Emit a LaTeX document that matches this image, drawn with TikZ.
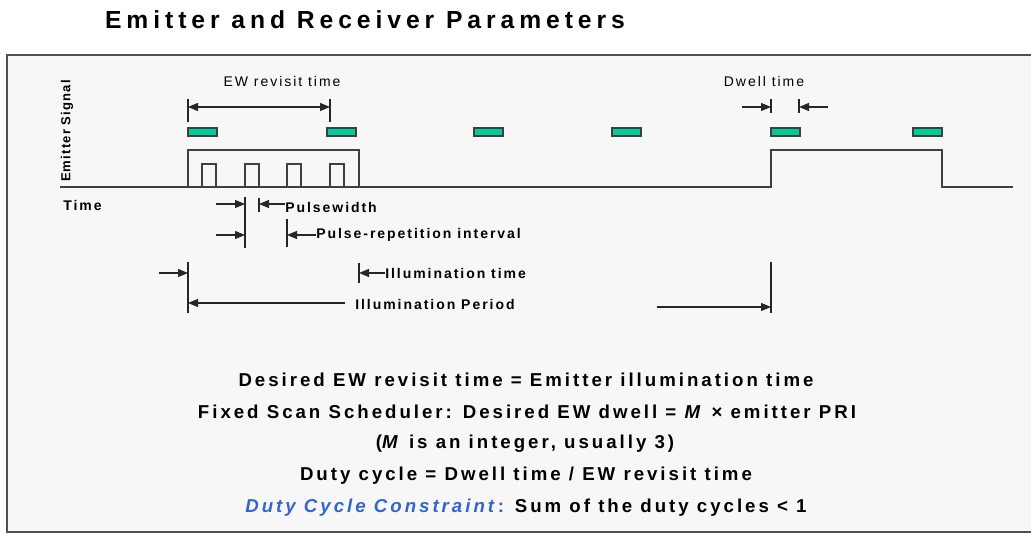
\documentclass[tikz,border=0pt]{standalone}
\usepackage{fontspec}
\setmainfont{Liberation Sans}
\newfontfamily\titlefam[LetterSpace=20]{Liberation Sans}
\newfontfamily\lblfam[LetterSpace=14]{Liberation Sans}
\newfontfamily\blblfam[LetterSpace=14]{Liberation Sans}
\newfontfamily\sigfam[LetterSpace=9]{Liberation Sans}
\newfontfamily\eqfam[LetterSpace=16]{Liberation Sans}
\usetikzlibrary{arrows.meta}
\definecolor{bg}{HTML}{F7F7F7}
\definecolor{barfill}{HTML}{00CC99}
\definecolor{blu}{HTML}{3366CC}
\definecolor{wave}{HTML}{404040}
\definecolor{frame}{HTML}{505050}
\begin{document}
\begin{tikzpicture}[x=0.75pt,y=-0.75pt,
  wavestyle/.style={draw=wave,line width=1.1pt},
  barstyle/.style={draw=wave,fill=barfill,line width=0.9pt},
  tick/.style={draw=black!85,line width=0.8pt},
  dim/.style={draw=black!85,line width=0.8pt,-{Triangle[length=7.5pt,width=6pt]}},
  dimboth/.style={draw=black!85,line width=0.8pt,{Triangle[length=7.5pt,width=6pt]}-{Triangle[length=7.5pt,width=6pt]}},
  titlestyle/.style={font=\titlefam\bfseries\fontsize{18.5}{22}\selectfont,inner sep=0pt},
  lbl/.style={font=\lblfam\fontsize{10.5}{12}\selectfont,inner sep=0pt},
  blbl/.style={font=\blblfam\bfseries\fontsize{10.5}{12}\selectfont,inner sep=0pt},
  siglbl/.style={font=\sigfam\bfseries\fontsize{9.8}{12}\selectfont,inner sep=0pt},
  eq/.style={font=\eqfam\bfseries\fontsize{14}{16}\selectfont,inner sep=0pt}]
\useasboundingbox (0,0) rectangle (1031,534);
\clip (0,0) rectangle (1031,534);
\fill[white] (0,0) rectangle (1031,534);
\draw[fill=bg,draw=frame,line width=1.2pt] (7,55) rectangle (1045,532);

\node[titlestyle] (title) at (365,20) {Emitter and Receiver Parameters};

% waveform
\draw[wavestyle] (60,187) -- (771,187) -- (771,150) -- (942,150) -- (942,187) -- (1013,187);
\draw[wavestyle] (188,187) -- (188,150) -- (359,150) -- (359,187);
\foreach \a in {202,245,287,330}
  \draw[wavestyle] (\a,187) -- (\a,164) -- (\a+14,164) -- (\a+14,187);

% bars
\foreach \a in {188,327,474,612,771,913}
  \draw[barstyle] (\a,128) rectangle (\a+29,136);

% labels
\node[siglbl,rotate=90] (sig) at (67,131) {Emitter Signal};
\node[blbl,anchor=west] (time) at (63,205) {Time};
\node[lbl] (rev) at (282,81) {EW revisit time};
\node[lbl] (dwell) at (764,82) {Dwell time};
\node[blbl,anchor=west] (pw) at (285,207) {Pulsewidth};
\node[blbl,anchor=west] (pri) at (316,235) {Pulse-repetition interval};
\node[blbl,anchor=west] (ilt) at (385,273) {Illumination time};
\node[blbl,anchor=west] (ilp) at (355,304) {Illumination Period};

% EW revisit time
\coordinate (ra) at (188,107); \coordinate (rb) at (330,107);
\draw[tick] (188,99) -- (188,122);
\draw[tick] (330,99) -- (330,122);
\draw[dimboth] (ra) -- (rb);

% Dwell time
\coordinate (d1s) at (742,107); \coordinate (d1e) at (771,107);
\coordinate (d2s) at (828,107); \coordinate (d2e) at (799,107);
\draw[tick] (771,99) -- (771,113);
\draw[tick] (799,99) -- (799,113);
\draw[dim] (d1s) -- (d1e);
\draw[dim] (d2s) -- (d2e);

% Pulsewidth
\coordinate (p1s) at (216,204); \coordinate (p1e) at (245,204);
\coordinate (p2e) at (259,204);
\draw[tick] (245,197) -- (245,248);
\draw[tick] (259,198) -- (259,212);
\draw[dim] (p1s) -- (p1e);
\draw[dim] (pw.west |- p2e) -- (p2e);

% PRI
\coordinate (q1s) at (216,235); \coordinate (q1e) at (245,235);
\coordinate (q2e) at (287,235);
\draw[tick] (287,219) -- (287,247);
\draw[dim] (q1s) -- (q1e);
\draw[dim] (pri.west |- q2e) -- (q2e);

% Illumination time
\coordinate (i1s) at (159,273); \coordinate (i1e) at (188,273);
\coordinate (i2e) at (359,273);
\draw[tick] (188,262) -- (188,313);
\draw[tick] (359,263) -- (359,283);
\draw[dim] (i1s) -- (i1e);
\draw[dim] (ilt.west |- i2e) -- (i2e);

% Illumination period
\coordinate (l1s) at (345,303); \coordinate (l1e) at (188,303);
\draw[dim] (l1s) -- (l1e);
\coordinate (l2s) at (657,307); \coordinate (l2e) at (771,307);
\draw[tick] (771,262) -- (771,313);
\draw[dim] (l2s) -- (l2e);

% equations
\node[eq] (e1) at (526,380) {Desired EW revisit time = Emitter illumination time};
\node[eq] (e2) at (527,412) {Fixed Scan Scheduler: Desired EW dwell = \textit{M} × emitter PRI};
\node[eq] (e3) at (525,444) {(\textit{M} is an integer, usually 3)};
\node[eq] (e4) at (526,476) {Duty cycle = Dwell time / EW revisit time};
\node[eq] (e5) at (526,508) {{\color{blu}\textit{Duty Cycle Constraint}:} Sum of the duty cycles < 1};
\end{tikzpicture}
\end{document}
